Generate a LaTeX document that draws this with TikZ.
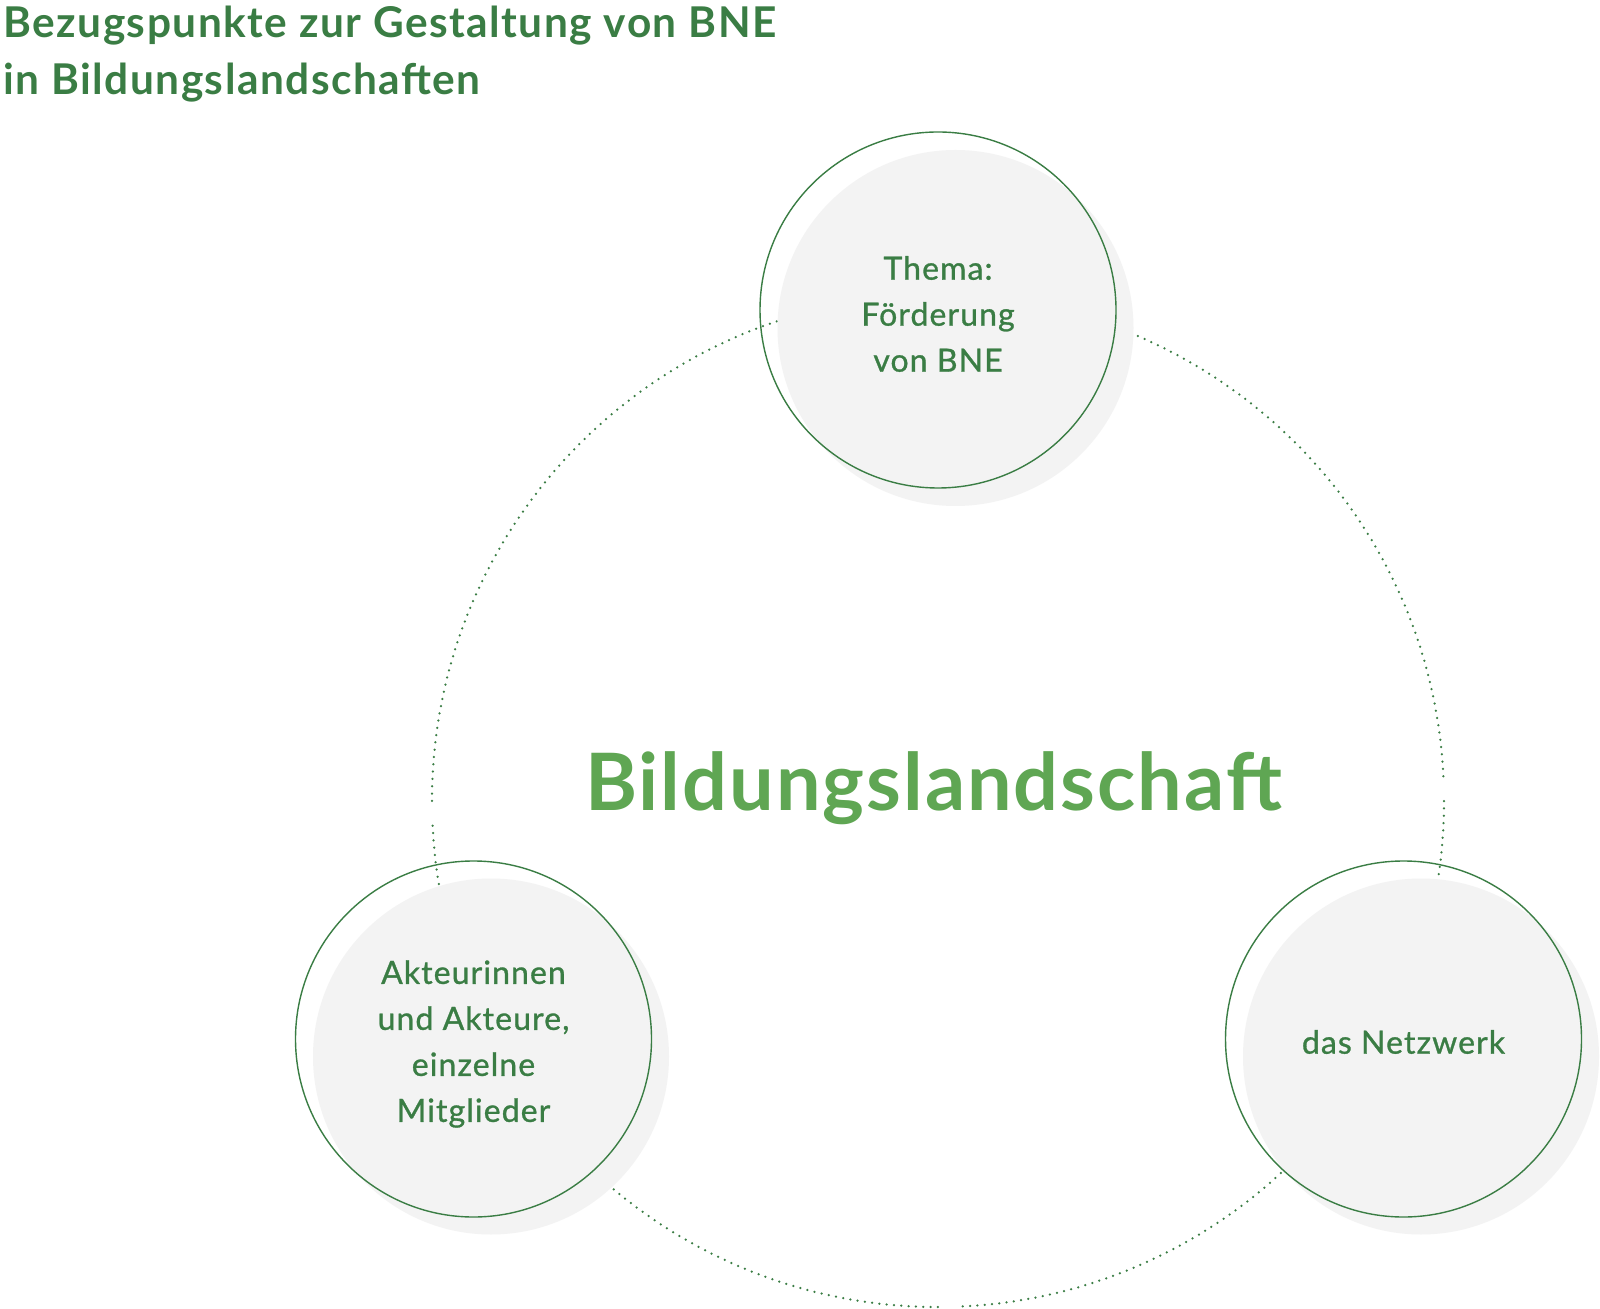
\documentclass[tikz,border=0pt]{standalone}
\usepackage{fontspec}
\setmainfont{Lato}
\newfontfamily\medfont[FakeBold=0.9,LetterSpace=3.4]{Lato}
\newfontfamily\titlefont[LetterSpace=3.5]{Lato}
\newfontfamily\bigfont[LetterSpace=2.5]{Lato}
\definecolor{dkgreen}{RGB}{58,125,68}
\definecolor{ltgreen}{RGB}{95,166,83}
\definecolor{shade}{RGB}{243,243,243}
\tikzset{
  dotring/.style={draw=dkgreen, line width=1.25pt, line cap=round, dash pattern=on 0pt off 3.667pt},
  shadowdisc/.style={fill=shade, draw=none},
  ringnode/.style={circle, draw=dkgreen, line width=0.7pt, minimum size=178pt, inner sep=0pt},
  ringtext/.style={inner sep=0pt, align=center, text=dkgreen, font={\medfont\fontsize{16}{23}\selectfont}},
  titletext/.style={anchor=base west, inner sep=0pt, text=dkgreen, font={\titlefont\bfseries\fontsize{21.2}{28}\selectfont}},
  centertext/.style={anchor=base, inner sep=0pt, text=ltgreen, font={\bigfont\bfseries\fontsize{39.6}{44}\selectfont}}
}
\begin{document}
\begin{tikzpicture}[x=0.5pt, y=-0.5pt]
\useasboundingbox[fill=white] (0,0) rectangle (1600,1309);
% dotted ring
\coordinate (ringc) at (938,801);
\foreach \q in {180,90,0,-90}{
  \draw[dotring] (ringc) ++(\q-2.8:506) arc[start angle=\q-2.8, end angle=\q-90, radius=506];
}
% shadows
\fill[shadowdisc] (955.5,328) circle[radius=178];
\fill[shadowdisc] (491,1056.5) circle[radius=178];
\fill[shadowdisc] (1421,1056.5) circle[radius=178];
% ring nodes
\node[ringnode] (topc) at (938,310) {};
\node[ringnode] (leftc) at (473.5,1039) {};
\node[ringnode] (rightc) at (1403.5,1039) {};
\node[ringtext] (toptext) at ([yshift=-2pt]topc.center) {Thema:\\Förderung\\von BNE};
\node[ringtext] (lefttext) at ([yshift=-2.5pt]leftc.center) {Akteurinnen\\und Akteure,\\einzelne\\Mitglieder};
\node[ringtext] (righttext) at ([yshift=-1.5pt]rightc.center) {das Netzwerk};
% texts
\node[titletext] (title1) at (3,38) {Bezugspunkte zur Gestaltung von BNE};
\node[titletext] (title2) at (3,95) {in Bildungslandschaften};
\node[centertext] (center) at (933.5,810) {Bildungslandschaft};
\end{tikzpicture}
\end{document}
